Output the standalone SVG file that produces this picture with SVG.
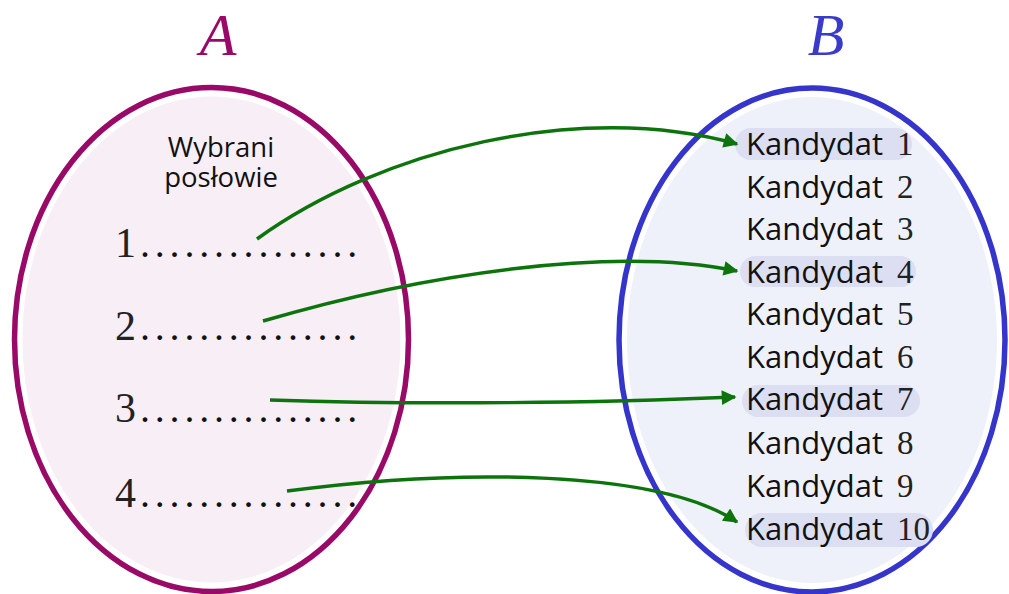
<svg xmlns="http://www.w3.org/2000/svg" width="1009" height="594" viewBox="0 0 1009 594">
<defs>
<style>
.lbl{font-family:"Liberation Serif",serif;font-style:italic;font-size:60px}
.sans{font-family:"Open Sans","Noto Sans",sans-serif;fill:#111}
.k{font-family:"Open Sans","Noto Sans",sans-serif;fill:#111;font-size:31px}
.kn{font-family:"Liberation Serif",serif;fill:#222;font-size:33px}
.num{font-family:"Liberation Serif",serif;fill:#222;font-size:42px}
.dots{font-family:"Liberation Serif",serif;font-size:40px;letter-spacing:4.8px;fill:#111}
.hl{fill:#dcdef2}
.arr{fill:none;stroke:#0d740d;stroke-width:3.5;marker-end:url(#ah)}
</style>
<marker id="ah" viewBox="0 0 10 10" refX="9" refY="5" markerWidth="6" markerHeight="4.2" markerUnits="strokeWidth" orient="auto">
<path d="M0,0 L10,5 L0,10 Z" fill="#0d740d"/>
</marker>
</defs>
<rect width="1009" height="594" fill="#fff"/>
<g id="setA">
<ellipse cx="211.5" cy="339.5" rx="189" ry="243" fill="#f7eef6"/>
<ellipse cx="211.5" cy="339.5" rx="197" ry="252" fill="none" stroke="#990a68" stroke-width="5.5"/>
<text class="lbl" x="218" y="55" fill="#990a68" text-anchor="middle">A</text>
<text class="sans" x="221" y="157" font-size="27.5" text-anchor="middle">Wybrani</text>
<text class="sans" x="221" y="187" font-size="27.5" text-anchor="middle">posłowie</text>
</g>
<g id="a1"><text class="num" x="115" y="257">1</text><text class="dots" x="140" y="257">...............</text></g>
<g id="a2"><text class="num" x="115" y="340">2</text><text class="dots" x="140" y="340">...............</text></g>
<g id="a3"><text class="num" x="115" y="422">3</text><text class="dots" x="140" y="422">...............</text></g>
<g id="a4"><text class="num" x="115" y="507">4</text><text class="dots" x="140" y="507">...............</text></g>
<g id="setB">
<ellipse cx="812" cy="340" rx="185" ry="243" fill="#eff1fa"/>
<ellipse cx="812" cy="340" rx="193" ry="252" fill="none" stroke="#3535cc" stroke-width="5.5"/>
<text class="lbl" x="826" y="55" fill="#3a3acc" text-anchor="middle">B</text>
</g>
<g id="b1"><rect class="hl" x="735" y="128" width="177" height="32" rx="16"/><text class="k" x="746" y="155">Kandydat</text><text class="kn" x="897" y="155">1</text></g>
<g id="b2"><text class="k" x="746" y="198">Kandydat</text><text class="kn" x="897" y="198">2</text></g>
<g id="b3"><text class="k" x="746" y="240">Kandydat</text><text class="kn" x="897" y="240">3</text></g>
<g id="b4"><rect class="hl" x="740" y="256" width="176" height="31" rx="15.5"/><text class="k" x="746" y="283">Kandydat</text><text class="kn" x="897" y="283">4</text></g>
<g id="b5"><text class="k" x="746" y="325">Kandydat</text><text class="kn" x="897" y="325">5</text></g>
<g id="b6"><text class="k" x="746" y="368">Kandydat</text><text class="kn" x="897" y="368">6</text></g>
<g id="b7"><rect class="hl" x="742" y="385" width="178" height="32" rx="16"/><text class="k" x="746" y="410">Kandydat</text><text class="kn" x="897" y="410">7</text></g>
<g id="b8"><text class="k" x="746" y="454">Kandydat</text><text class="kn" x="897" y="454">8</text></g>
<g id="b9"><text class="k" x="746" y="497">Kandydat</text><text class="kn" x="897" y="497">9</text></g>
<g id="b10"><rect class="hl" x="745" y="513" width="188" height="34" rx="17"/><text class="k" x="746" y="540">Kandydat</text><text class="kn" x="897" y="540">10</text></g>
<g id="connectors">
<path class="arr" d="M257,239 C380,150 580,100 737,144"/>
<path class="arr" d="M263,321 C420,275 610,245 737,271"/>
<path class="arr" d="M270,400 C420,405 600,403 735,397"/>
<path class="arr" d="M287,491 C460,468 660,470 737,522"/>
</g>
</svg>
